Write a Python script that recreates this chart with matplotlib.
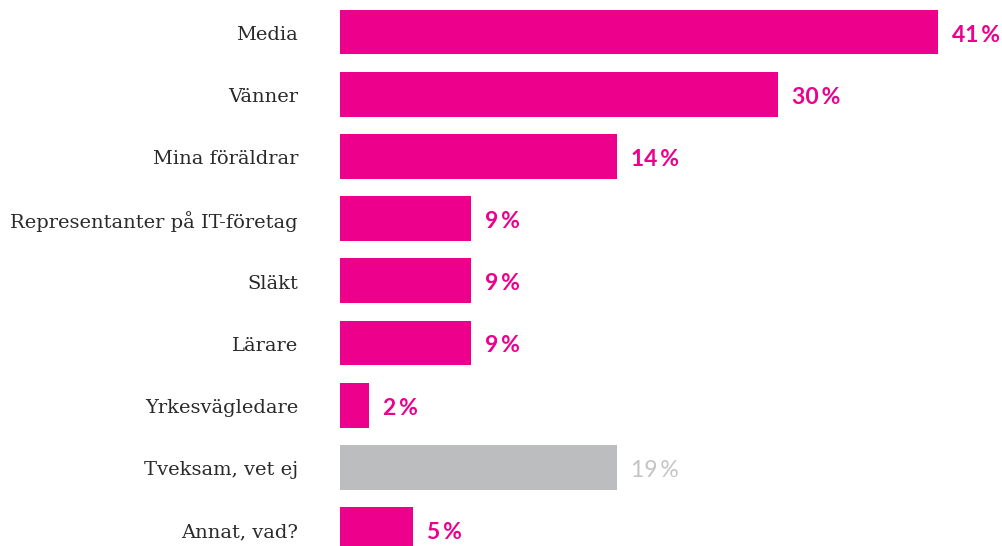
import matplotlib
matplotlib.use("Agg")
import matplotlib.pyplot as plt

categories = ["Media", "Vänner", "Mina föräldrar", "Representanter på IT-företag",
              "Släkt", "Lärare", "Yrkesvägledare", "Tveksam, vet ej", "Annat, vad?"]
values = [41, 30, 19, 9, 9, 9, 2, 19, 5]
value_labels = ["41%", "30%", "14%", "9%", "9%", "9%", "2%", "19%", "5%"]
highlight = [True, True, True, True, True, True, True, False, True]

PINK = "#EC008C"
GRAY_BAR = "#BCBDBF"
GRAY_TXT = "#C4C4C6"

W, H = 1003, 546
fig = plt.figure(figsize=(W / 100, H / 100), dpi=100)
x0 = 340
ax = fig.add_axes([x0 / W, 0, (W - x0) / W, 1])
px_per_unit = 598 / 41
pitch = 62.2
top_center = 32
ax.set_xlim(0, (W - x0) / px_per_unit)
ax.set_ylim((H - top_center) / pitch, -top_center / pitch)

ys = list(range(len(categories)))
colors = [PINK if h else GRAY_BAR for h in highlight]
ax.barh(ys, values, height=0.72, color=colors, linewidth=0)

for y, v, lab, h, cat in zip(ys, values, value_labels, highlight, categories):
    num, pct = lab[:-1], lab[-1]
    ax.text(v + 14 / px_per_unit, y + 3 / pitch, num + "\u2009" + pct, va="center", ha="left",
            fontsize=16.5, fontweight="bold" if h else "normal",
            color=PINK if h else GRAY_TXT, family=["Lato", "DejaVu Sans"])
    ax.text(-42 / px_per_unit, y + 3 / pitch, cat, va="center", ha="right",
            fontsize=14, color="#2a2a2a", family="DejaVu Serif", clip_on=False)

ax.axis("off")
fig.savefig("out.png", dpi=100)
